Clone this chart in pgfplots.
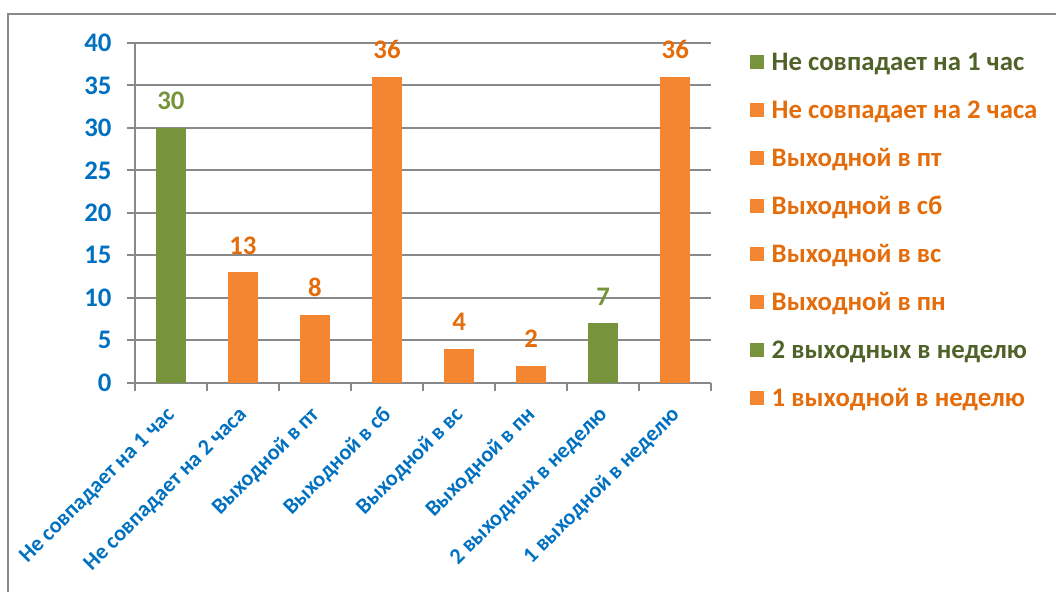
\documentclass[border=0pt]{standalone}
\usepackage{fontspec}
\setmainfont{Carlito}
\usepackage{pgfplots}
\pgfplotsset{compat=1.18}
\definecolor{bargreen}{RGB}{119,147,60}
\definecolor{barorange}{RGB}{244,134,50}
\definecolor{lblorange}{RGB}{228,108,10}
\definecolor{lgdgreen}{RGB}{79,98,40}
\definecolor{tickblue}{RGB}{0,112,192}
\definecolor{gridgray}{RGB}{137,137,137}

\begin{document}
\begin{tikzpicture}[x=0.5pt,y=0.5pt]
% canvas 1057 x 593 px, 1px = 0.5pt
\path (0,0) rectangle (1057,593);
\draw[gridgray, line width=1pt] (8,0) -- (8,579) -- (1057,579);
\begin{axis}[
  at={(67.5pt,105pt)}, anchor=south west,
  scale only axis, width=288.5pt, height=170pt,
  ybar, bar width=15pt, bar shift=0pt,
  xmin=-0.5, xmax=7.5, ymin=0, ymax=40,
  ytick={0,5,...,40},
  xtick={0,...,7},
  xticklabels={Не совпадает на 1 час, Не совпадает на 2 часа, Выходной в пт, Выходной в сб, Выходной в вс, Выходной в пн, 2 выходных в неделю, 1 выходной в неделю},
  minor xtick={-0.5,0.5,...,7.5},
  axis x line*=bottom, axis y line*=left,
  axis line style={gridgray, line width=1pt},
  ymajorgrids, grid style={gridgray, line width=1pt},
  tick align=outside, major tick length=4pt, minor tick length=4pt,
  major x tick style={draw=none},
  minor x tick style={gridgray, line width=1pt},
  ytick style={gridgray, line width=1pt},
  /pgf/number format/assume math mode=true,
  ticklabel style={text=tickblue},
  y tick label style={font=\fontsize{13.4}{16}\selectfont\bfseries, inner sep=0pt, anchor=east, xshift=-7.5pt},
  x tick label style={font=\fontsize{11.1}{13}\selectfont\bfseries, inner sep=0pt, xshift=0.5pt, yshift=-10.5pt, rotate=45, anchor=east},
  nodes near coords,
  every node near coord/.append style={font=\fontsize{13.4}{16}\selectfont\bfseries, anchor=base, yshift=9pt},
  every axis plot/.append style={legend image code/.code={\fill[##1] (0pt,-3.5pt) rectangle (7pt,3.5pt);}},
  legend cell align=left,
  legend style={at={(1.066,1.015)}, anchor=north west, draw=none, fill=none, inner sep=0pt, row sep=0pt,
    font=\fontsize{13.4}{16}\selectfont\bfseries,
    nodes={inner sep=0pt, text height=16.3pt, text depth=7.7pt},
    /tikz/every odd column/.append style={column sep=4pt}},
]
\addplot[fill=bargreen, draw=none, every node near coord/.append style={text=bargreen}] coordinates {(0,30)};
\addlegendentry{\textcolor{lgdgreen}{Не совпадает на 1 час}}
\addplot[fill=barorange, draw=none, every node near coord/.append style={text=lblorange}] coordinates {(1,13)};
\addlegendentry{\textcolor{lblorange}{Не совпадает на 2 часа}}
\addplot[fill=barorange, draw=none, every node near coord/.append style={text=lblorange}] coordinates {(2,8)};
\addlegendentry{\textcolor{lblorange}{Выходной в пт}}
\addplot[fill=barorange, draw=none, every node near coord/.append style={text=lblorange}] coordinates {(3,36)};
\addlegendentry{\textcolor{lblorange}{Выходной в сб}}
\addplot[fill=barorange, draw=none, every node near coord/.append style={text=lblorange}] coordinates {(4,4)};
\addlegendentry{\textcolor{lblorange}{Выходной в вс}}
\addplot[fill=barorange, draw=none, every node near coord/.append style={text=lblorange}] coordinates {(5,2)};
\addlegendentry{\textcolor{lblorange}{Выходной в пн}}
\addplot[fill=bargreen, draw=none, every node near coord/.append style={text=bargreen}] coordinates {(6,7)};
\addlegendentry{\textcolor{lgdgreen}{2 выходных в неделю}}
\addplot[fill=barorange, draw=none, every node near coord/.append style={text=lblorange}] coordinates {(7,36)};
\addlegendentry{\textcolor{lblorange}{1 выходной в неделю}}
\end{axis}
\end{tikzpicture}
\end{document}
